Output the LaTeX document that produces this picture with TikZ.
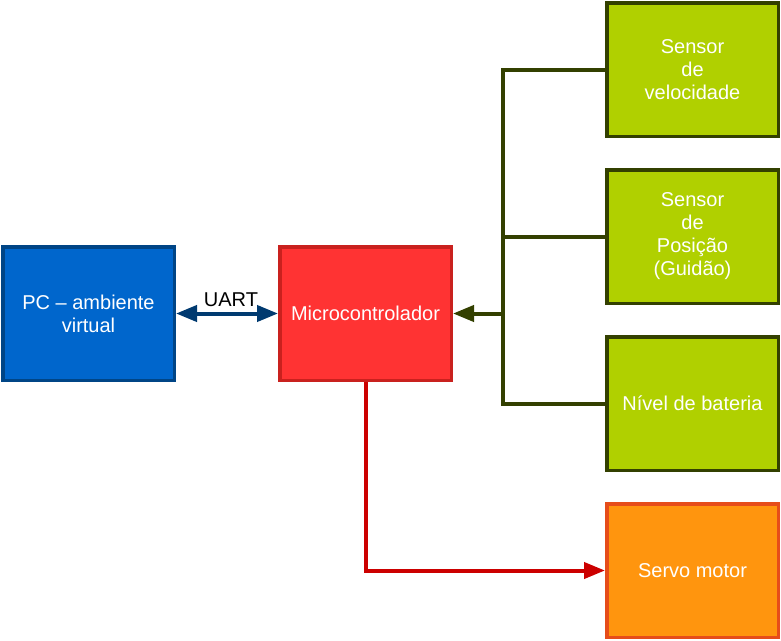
\documentclass[tikz,border=0pt]{standalone}
\usepackage{fontspec}
\setmainfont{Liberation Sans}
\usetikzlibrary{arrows.meta}
\definecolor{pcfill}{HTML}{0066CC}
\definecolor{pcdraw}{HTML}{004586}
\definecolor{mcfill}{HTML}{FF3333}
\definecolor{mcdraw}{HTML}{C9211E}
\definecolor{gnfill}{HTML}{B0D000}
\definecolor{gndraw}{HTML}{334000}
\definecolor{srfill}{HTML}{FF950E}
\definecolor{srdraw}{HTML}{E64D1A}
\definecolor{redline}{HTML}{CC0000}
\definecolor{uartline}{HTML}{003A70}
\tikzset{
  x=1pt, y=1pt,
  block/.style={rectangle, line width=3.5pt, minimum width=171.5pt, minimum height=133.5pt,
    inner sep=2pt, align=center, text=white, font=\fontsize{20}{23}\selectfont},
  pcbox/.style={block, fill=pcfill, draw=pcdraw},
  mcbox/.style={block, fill=mcfill, draw=mcdraw},
  gnbox/.style={block, fill=gnfill, draw=gndraw},
  srbox/.style={block, fill=srfill, draw=srdraw},
  conn/.style={line width=4pt},
  tip/.style={-{Triangle[length=21pt,width=16pt]}},
  dtip/.style={{Triangle[length=21pt,width=16pt]}-{Triangle[length=21pt,width=16pt]}},
}
\begin{document}
\begin{tikzpicture}
\useasboundingbox (0,0) rectangle (781,-640);
\node[pcbox] (pc) at (88.5,-313.5) {PC -- ambiente\\virtual};
\node[mcbox] (mc) at (365.5,-313.5) {Microcontrolador};
\node[gnbox] (s1) at (692.5,-69.5) {Sensor\\de\\velocidade};
\node[gnbox] (s2) at (692.5,-236.5) {Sensor\\de\\Posição\\(Guidão)};
\node[gnbox] (s3) at (692.5,-403.5) {Nível de bateria};
\node[srbox] (sv) at (692.5,-570.5) {Servo motor};
\draw[conn, dtip, uartline] (pc.east) -- (mc.west);
\node[text=black, font=\fontsize{20}{23}\selectfont] (uart) at (231,-300) {UART};
\coordinate (t) at (503,-69.5);
\coordinate (b) at (503,-403.5);
\coordinate (j) at (503,-313.5);
\draw[conn, gndraw] (s1.west) -- (t) -- (b) -- (s3.west);
\draw[conn, gndraw] (s2.west) -- (s2.west -| t);
\draw[conn, gndraw, tip] (j) -- (mc.east);
\draw[conn, redline, tip] (mc.south) |- (sv.west);
\end{tikzpicture}
\end{document}
